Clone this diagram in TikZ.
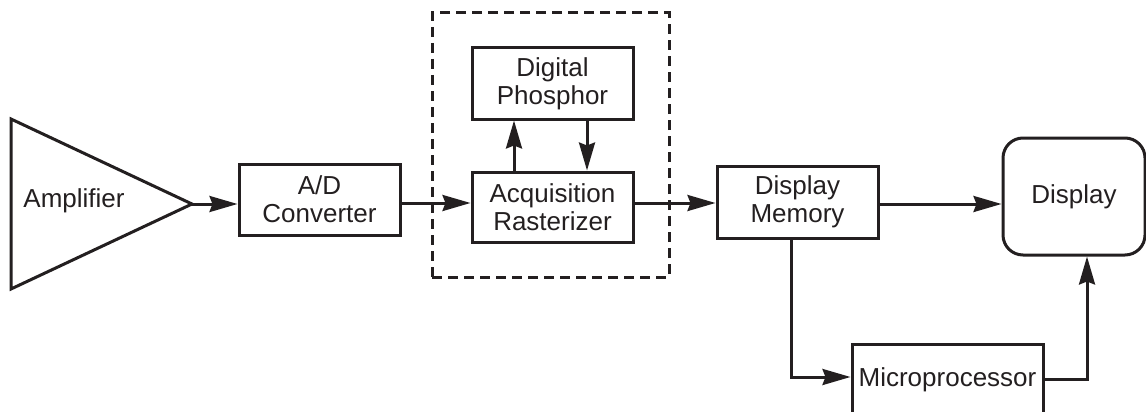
\documentclass[tikz,border=0pt]{standalone}
\usepackage{fontspec}
\setmainfont{Liberation Sans}
\usetikzlibrary{arrows.meta}
\definecolor{ink}{RGB}{35,31,32}
\begin{document}
\begin{tikzpicture}[x=1pt,y=-1pt,
  line width=3pt, draw=ink, text=ink,
  every node/.style={font=\fontsize{26}{28}\selectfont, align=center, inner sep=0pt},
  blk/.style={draw, line width=3pt, minimum width=#1, minimum height=71pt},
  arr/.style={-{Stealth[length=28pt,width=16pt,inset=3pt]}, line width=3pt, draw=ink}
]
\useasboundingbox (0,0) rectangle (1146,412);
\clip (0,0) rectangle (1146,412);
% amplifier
\coordinate (ampout) at (192,204);
\draw[line join=miter] (11,119) -- (ampout) -- (11,289) -- cycle;
\node (amp) at (74,201) {Amplifier};
% blocks
\node[blk=161pt] (ad) at (319.5,199.5) {A/D\\Converter};
\node[blk=161pt] (dp) at (552.5,83.5) {Digital\\Phosphor};
\node[blk=161pt, minimum height=70pt] (acq) at (552.5,207) {Acquisition\\Rasterizer};
\node[blk=161pt, minimum height=72pt] (dm) at (797.5,202) {Display\\Memory};
\node[draw, line width=3pt, rounded corners=20pt, minimum width=142pt, minimum height=117pt] (disp) at (1074,196.5) {Display};
\node[draw, line width=3pt, anchor=north, minimum width=191pt, text height=42pt, text depth=60pt] (mp) at (947.5,343) {Microprocessor};
% dashed frame
\node[draw, dashed, dash pattern=on 10pt off 6pt, line width=3pt, minimum width=237pt, minimum height=264pt] (frame) at (550.5,145) {};
% connectors
\coordinate (r1) at (0,203);
\draw[arr] (ampout) -- (ad.west |- ampout);
\draw[arr] (ad.east |- r1) -- (acq.west |- r1);
\draw[arr] (acq.east |- r1) -- (dm.west |- r1);
\coordinate (r2) at (0,204);
\draw[arr] (dm.east |- r2) -- (disp.west |- r2);
\coordinate (c1) at (514,0);
\coordinate (c2) at (587,0);
\draw[arr] (acq.north -| c1) -- (dp.south -| c1);
\draw[arr] (dp.south -| c2) -- (acq.north -| c2);
\coordinate (c3) at (791,377);
\draw[arr] (dm.south -| c3) -- (c3) -- (mp.west |- c3);
\coordinate (c4) at (1087,379);
\draw[arr] (mp.east |- c4) -- (c4) -- (disp.south -| c4);
\end{tikzpicture}
\end{document}
